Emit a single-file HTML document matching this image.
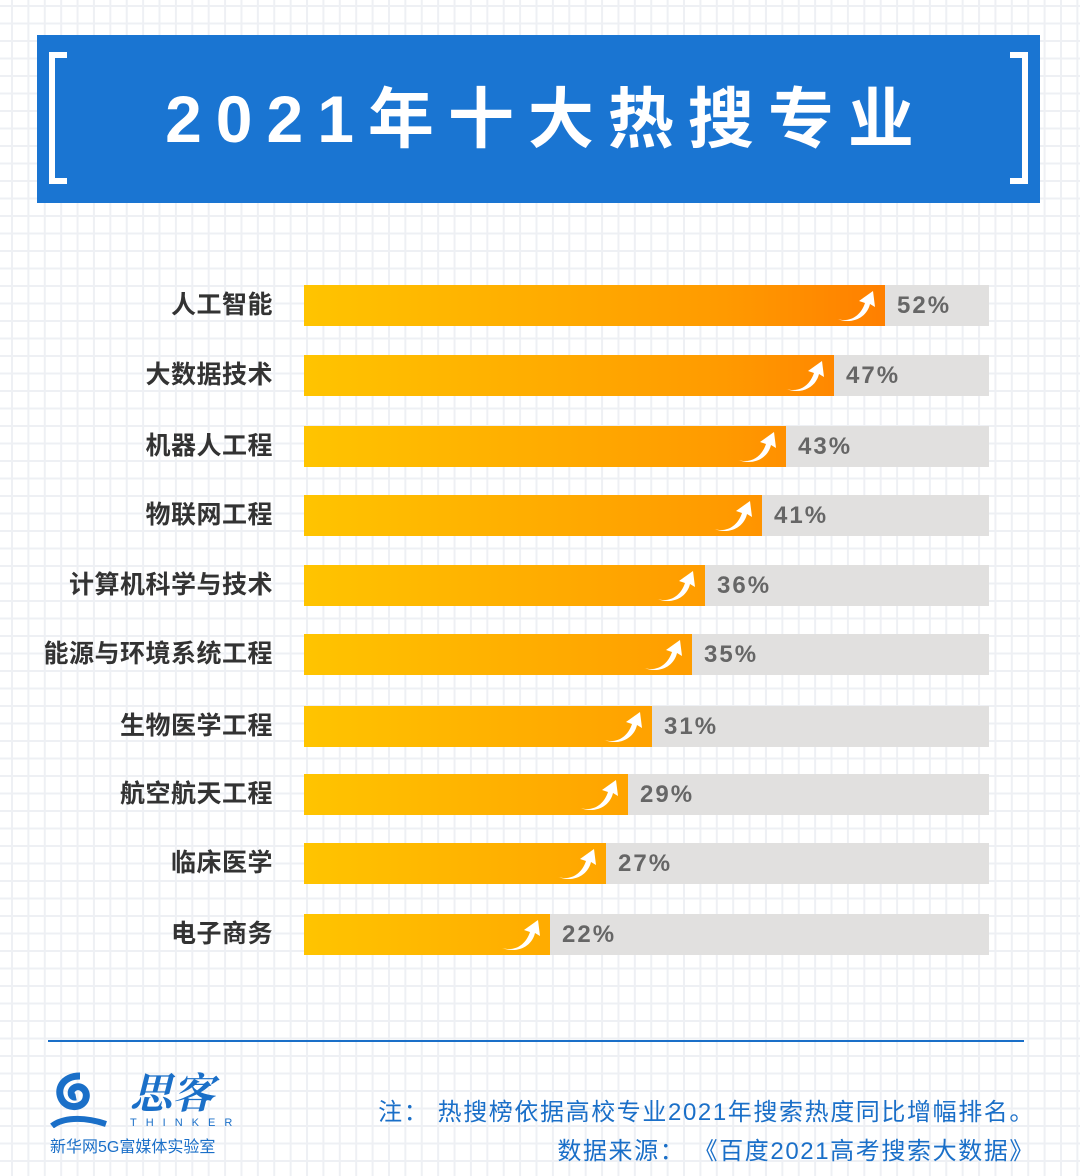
<!DOCTYPE html>
<html><head><meta charset="utf-8"><style>
body{margin:0}
#p{position:relative;width:1080px;height:1176px;overflow:hidden;background-color:#fff;
background-image:linear-gradient(90deg,#eef0f4 2px,transparent 2px),linear-gradient(#eef0f4 2px,transparent 2px);
background-size:16.4px 17.5px;background-position:11px 5px;
font-family:"Liberation Sans","Noto Sans CJK SC",sans-serif}
.hd{position:absolute;left:37px;top:35px;width:1003px;height:168px;background:#1a75d2}
.br{position:absolute;top:17px;width:12px;height:120px;border:6px solid #fff}
.t{position:absolute;left:8px;width:100%;top:44px;text-align:center;color:#fff;font-size:66px;font-weight:bold;letter-spacing:14px;line-height:80px}
.lb{position:absolute;right:807px;width:300px;text-align:right;font-size:25px;font-weight:bold;color:#333;line-height:41px;letter-spacing:0.5px}
.tr{position:absolute;left:304px;width:685px;height:41px;background:#e1e0df}
.f{position:absolute;left:0;top:0;height:41px;background:linear-gradient(90deg,#ffc400 0,#ff9a00 420px,#ff7c00 600px);background-size:685px 41px}
.pc{position:absolute;top:0;font-size:24px;font-weight:bold;color:#666;letter-spacing:2px;line-height:41px}
.ar{position:absolute;top:4px;width:42px;height:34px}
.n{position:absolute;right:45px;font-size:24px;color:#1a6fc8;white-space:nowrap;letter-spacing:1.6px}
</style></head><body><div id="p">
<div class="hd">
<div class="br" style="left:12px;border-right:none"></div>
<div class="br" style="right:12px;border-left:none"></div>
<div class="t">2021年十大热搜专业</div>
</div>
<div id="rows"></div>
<div style="position:absolute;left:48px;top:1040px;width:976px;height:2px;background:#1a6fc8"></div>
<svg style="position:absolute;left:50px;top:1068px" width="60" height="60" viewBox="0 0 60 60">
<path d="M30 8C12 8 6 22 12 32c6 10 22 8 24-2 2-8-6-14-12-10-5 3-3 10 2 9" fill="none" stroke="#1a6fc8" stroke-width="7"/>
<path d="M2 58c10-8 30-10 54-2" fill="none" stroke="#1a6fc8" stroke-width="6"/></svg>
<div style="position:absolute;left:130px;top:1066px;font-size:42px;font-style:italic;font-weight:bold;color:#1a6fc8;font-family:'Noto Serif CJK SC',serif;line-height:50px">思客</div>
<div style="position:absolute;left:130px;top:1117px;font-size:11px;color:#1a6fc8;letter-spacing:9px">THINKER</div>
<div style="position:absolute;left:50px;top:1133px;font-size:16px;color:#1a6fc8">新华网5G富媒体实验室</div>
<div class="n" style="top:1092px">注&#8203;：&#8203;&nbsp;热搜榜依据高校专业2021年搜索热度同比增幅排名。</div>
<div class="n" style="top:1131px">数据来源&#8203;：&nbsp;《百度2021高考搜索大数据》</div>
</div>
<script>
var d=[["人工智能",885,52,285],["大数据技术",834,47,355],["机器人工程",786,43,426],["物联网工程",762,41,495],["计算机科学与技术",705,36,565],["能源与环境系统工程",692,35,634],["生物医学工程",652,31,706],["航空航天工程",628,29,774],["临床医学",606,27,843],["电子商务",550,22,914]];
var h="";d.forEach(function(r){var w=r[1]-304;
h+='<div class="lb" style="top:'+r[3]+'px">'+r[0]+'</div><div class="tr" style="top:'+r[3]+'px"><div class="f" style="width:'+w+'px"></div>'+
'<svg class="ar" style="left:'+(w-50)+'px" viewBox="0 0 42 34"><path d="M2 30C16 34 26 26 30 14L24 12 38 2 40 18 35 15C32 28 18 36 2 30Z" fill="#fff"/></svg>'+
'<div class="pc" style="left:'+(w+12)+'px">'+r[2]+'%</div></div>';});
document.getElementById("rows").innerHTML=h;
</script>
</body></html>
